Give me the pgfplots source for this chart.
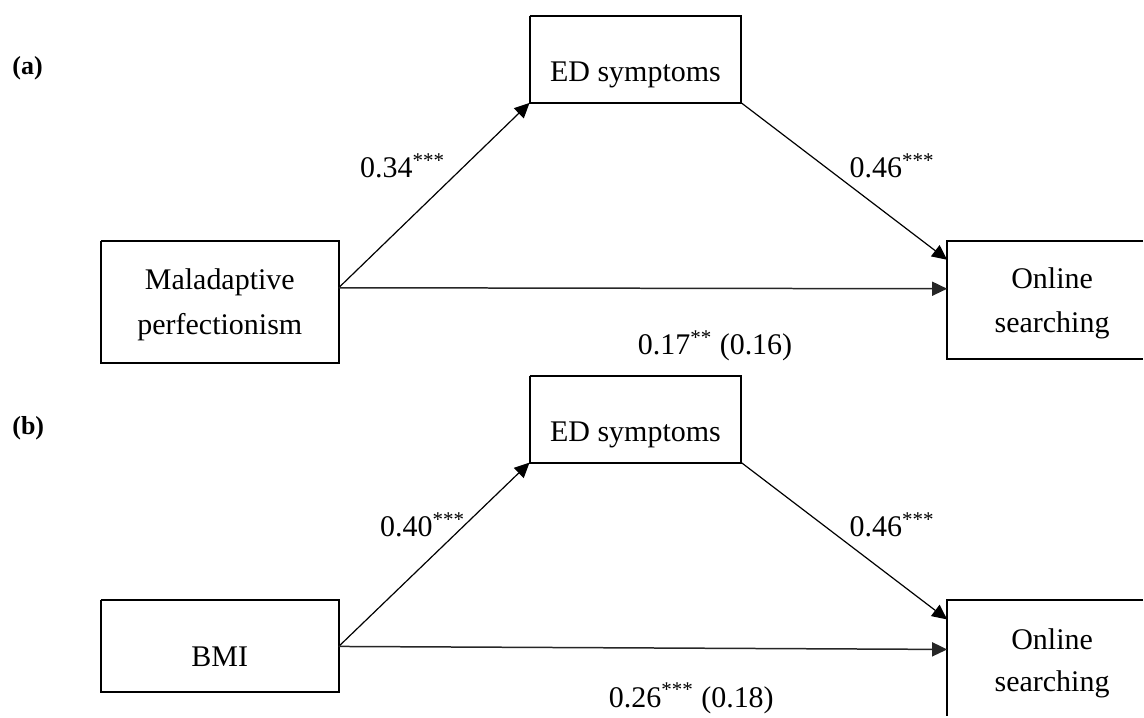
\documentclass[border=0pt]{standalone}
\usepackage{pgfplots}
\pgfplotsset{compat=1.18}
\usepackage{fontspec}
\setmainfont{Liberation Serif}
\usetikzlibrary{arrows.meta}
\tikzset{lab/.style={font=\fontsize{15}{18}\selectfont, inner sep=0pt},
         pan/.style={font=\fontsize{13}{15}\selectfont\bfseries, inner sep=0pt, anchor=base west}}
\begin{document}
\begin{tikzpicture}
\begin{axis}[
  width=572pt, height=358.5pt, scale only axis,
  xmin=0, xmax=1144, ymin=0, ymax=717, y dir=reverse,
  hide axis, clip=false,
]
\addplot[draw=none] coordinates {(0,0) (1144,717)};
% ---------- panel (a) ----------
\addplot[black, line width=1pt] coordinates {(530,16) (742,16) (742,103) (530,103) (530,16)};
\addplot[black, line width=1pt] coordinates {(101,241) (339,241) (339,363) (101,363) (101,241)};
\addplot[black, line width=1pt] coordinates {(1144,241) (948,241) (948,359) (1144,359)};
\addplot[black, line width=0.6pt, -{Triangle[length=7.5pt,width=7pt]}] coordinates {(339,288) (530,103)};
\addplot[black, line width=0.6pt, -{Triangle[length=7.5pt,width=7pt]}] coordinates {(742,103) (948,260)};
\addplot[black!85, line width=0.75pt, -{Triangle[length=7.5pt,width=7pt]}] coordinates {(339,288) (948,289)};
% ---------- panel (b) ----------
\addplot[black, line width=1pt] coordinates {(530,376) (742,376) (742,463) (530,463) (530,376)};
\addplot[black, line width=1pt] coordinates {(101,601) (339,601) (339,693) (101,693) (101,601)};
\addplot[black, line width=1pt] coordinates {(1144,601) (948,601) (948,717)};
\addplot[black, line width=0.6pt, -{Triangle[length=7.5pt,width=7pt]}] coordinates {(339,647) (530,463)};
\addplot[black, line width=0.6pt, -{Triangle[length=7.5pt,width=7pt]}] coordinates {(742,463) (948,620)};
\addplot[black!85, line width=0.75pt, -{Triangle[length=7.5pt,width=7pt]}] coordinates {(339,647) (948,650)};
% ---------- texts ----------
\node[pan] at (axis cs:12,75) {(a)};
\node[pan] at (axis cs:12,435) {(b)};
\node[lab, anchor=base] at (axis cs:636,82) {ED symptoms};
\node[lab, anchor=base] at (axis cs:220,290) {Maladaptive};
\node[lab, anchor=base] at (axis cs:220,335) {perfectionism};
\node[lab, anchor=base] at (axis cs:1053,289) {Online};
\node[lab, anchor=base] at (axis cs:1053,333) {searching};
\node[lab, anchor=base] at (axis cs:636,442) {ED symptoms};
\node[lab, anchor=base] at (axis cs:220,667) {BMI};
\node[lab, anchor=base] at (axis cs:1053,650) {Online};
\node[lab, anchor=base] at (axis cs:1053,692) {searching};
\node[lab, anchor=base west] at (axis cs:360,178) {0.34\textsuperscript{***}};
\node[lab, anchor=base west] at (axis cs:850,178) {0.46\textsuperscript{***}};
\node[lab, anchor=base west] at (axis cs:638,355) {0.17\textsuperscript{**} (0.16)};
\node[lab, anchor=base west] at (axis cs:380,537) {0.40\textsuperscript{***}};
\node[lab, anchor=base west] at (axis cs:850,537) {0.46\textsuperscript{***}};
\node[lab, anchor=base west] at (axis cs:609,708) {0.26\textsuperscript{***} (0.18)};
\end{axis}
\end{tikzpicture}
\end{document}
